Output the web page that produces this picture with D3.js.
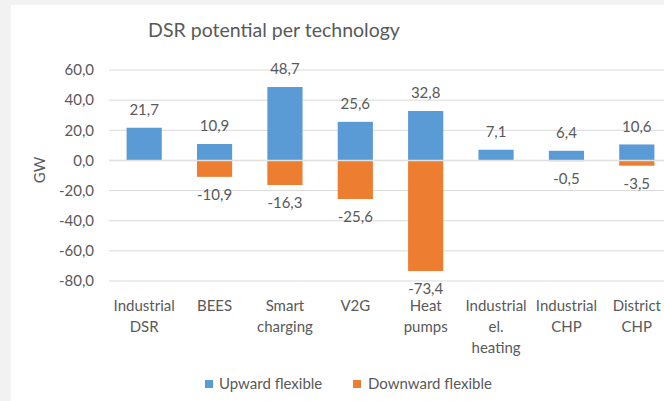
<!DOCTYPE html>
<html><head><meta charset="utf-8">
<script src="https://cdnjs.cloudflare.com/ajax/libs/d3/7.8.5/d3.min.js"></script>
<style>
html,body{margin:0;padding:0;background:#f2f2f2;}
svg{display:block;}
text{font-family:Lato, "Open Sans", sans-serif;fill:#595959;}
</style></head>
<body>
<svg id="c" width="664" height="401"></svg>
<script>
const categories = [["Industrial","DSR"],["BEES"],["Smart","charging"],["V2G"],["Heat","pumps"],["Industrial","el.","heating"],["Industrial","CHP"],["District","CHP"]];
const upward = [21.7, 10.9, 48.7, 25.6, 32.8, 7.1, 6.4, 10.6];
const downward = [null, -10.9, -16.3, -25.6, -73.4, null, -0.5, -3.5];
const yTicks = [60, 40, 20, 0, -20, -40, -60, -80];
const seriesNames = ["Upward flexible", "Downward flexible"];
const colors = ["#5B9BD5", "#ED7D31"];

const FS = 15;
const svg = d3.select("#c");
svg.append("rect").attr("x",11).attr("y",5).attr("width",664-11).attr("height",401-5).attr("fill","#fff");

const fmt = v => d3.format(".1f")(v).replace(".", ",").replace("−","-");
const y = d3.scaleLinear().domain([-80,60]).range([281,70]);
const x = d3.scaleBand().domain(d3.range(categories.length)).range([109,672]).padding(0);
const bw = x.bandwidth()*0.5;
const cx = i => x(i) + x.bandwidth()/2;

const upData = upward.map((v,i)=>({v,i}));
const downData = downward.map((v,i)=>({v,i})).filter(o=>o.v!==null);

// grid
svg.append("g").selectAll("line").data(yTicks).join("line")
  .attr("x1",109).attr("x2",664).attr("y1",d=>y(d)).attr("y2",d=>y(d))
  .attr("stroke","#d9d9d9").attr("stroke-width",1);
// y tick labels
svg.append("g").selectAll("text").data(yTicks).join("text")
  .attr("x",94).attr("y",d=>y(d)).attr("dy","0.35em").attr("text-anchor","end")
  .attr("font-size",FS).text(d=>fmt(d));

// bars
svg.append("g").selectAll("rect").data(upData).join("rect")
  .attr("x",o=>cx(o.i)-bw/2).attr("width",bw)
  .attr("y",o=>y(o.v)).attr("height",o=>y(0)-y(o.v)).attr("fill",colors[0]);
svg.append("g").selectAll("rect").data(downData).join("rect")
  .attr("x",o=>cx(o.i)-bw/2).attr("width",bw)
  .attr("y",y(0)).attr("height",o=>y(o.v)-y(0)).attr("fill",colors[1]);
// zero line over bars
svg.append("line").attr("x1",109).attr("x2",664).attr("y1",y(0)).attr("y2",y(0))
  .attr("stroke","#e0e0e0").attr("stroke-width",1.5);

// value labels
svg.append("g").selectAll("text").data(upData).join("text")
  .attr("x",o=>cx(o.i)).attr("y",o=>y(o.v)-18).attr("dy","0.35em")
  .attr("text-anchor","middle").attr("font-size",FS).text(o=>fmt(o.v));
svg.append("g").selectAll("text").data(downData).join("text")
  .attr("x",o=>cx(o.i)).attr("y",o=>y(o.v)+18).attr("dy","0.35em")
  .attr("text-anchor","middle").attr("font-size",FS).text(o=>fmt(o.v));

// category labels
const cg = svg.append("g");
categories.forEach((lines,i)=>{
  const t = cg.append("text").attr("text-anchor","middle").attr("font-size",FS);
  lines.forEach((l,j)=>{
    t.append("tspan").attr("x",cx(i)).attr("y",306 + j*21).attr("dy","0.35em").text(l);
  });
});

// axis title
svg.append("text").attr("transform","translate(40,170) rotate(-90)")
  .attr("text-anchor","middle").attr("dy","0.35em").attr("font-size",FS).text("GW");

// chart title
svg.append("text").attr("x",274).attr("y",30).attr("dy","0.35em").attr("text-anchor","middle")
  .attr("font-size",19.5).text("DSR potential per technology");

// legend
const leg = [{x:205, tx:219},{x:353, tx:368}];
seriesNames.forEach((n,i)=>{
  svg.append("rect").attr("x",leg[i].x).attr("y",380).attr("width",8).attr("height",8).attr("fill",colors[i]);
  svg.append("text").attr("x",leg[i].tx).attr("y",384).attr("dy","0.35em").attr("font-size",FS).text(n);
});
</script>
</body></html>
